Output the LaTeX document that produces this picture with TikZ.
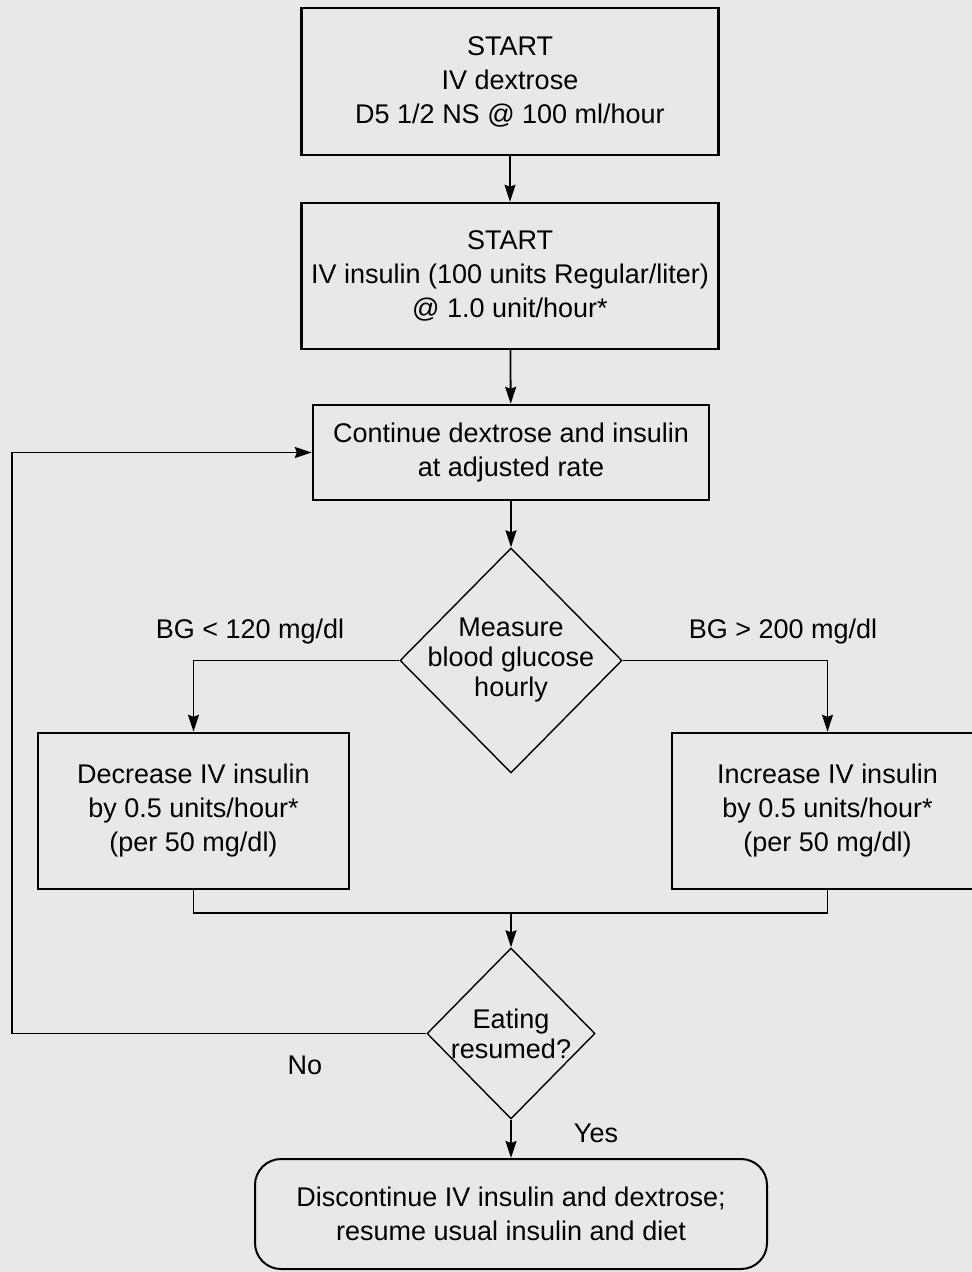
\documentclass[tikz,border=0pt]{standalone}
\usepackage{fontspec}
\setmainfont{Liberation Sans}
\usepackage{tikz}
\usetikzlibrary{positioning}
\usetikzlibrary{shapes.geometric}
\usetikzlibrary{arrows.meta}
\usepackage{xcolor}

\begin{document}
\begin{tikzpicture}[x=0.5pt, y=-0.5pt,
    font=\fontsize{13.5}{17}\selectfont,
    box/.style={draw, rectangle, line width=1.2pt, align=center, inner sep=0pt},
    choice/.style={draw, diamond, aspect=1, line width=0.7pt, align=center, inner sep=-6pt,
        font=\fontsize{13.5}{15}\selectfont},
    stopbox/.style={draw, rectangle, rounded corners=13pt, line width=1pt, align=center},
    arrow/.style={-{Stealth[length=8.5pt, width=5.5pt, inset=1pt]}, line width=0.9pt},
    line/.style={line width=0.9pt}]
    % Paper
    \fill[black!9] (0,0) rectangle (972,1272);
    \useasboundingbox (0,0) rectangle (972,1272);

    % Dextrose drip
    \node[box, minimum width=208.5pt, minimum height=73.5pt] (dextrose) at (510,81.5)
        {START\\IV dextrose\\D5 1/2 NS @ 100 ml/hour};

    % Insulin drip
    \node[box, minimum width=208.5pt, minimum height=73pt] (insulin) at (510,276)
        {START\\IV insulin (100 units Regular/liter)\\@ 1.0 unit/hour*};
    \draw[arrow] (dextrose) -- (insulin);

    % Continue
    \node[box, minimum width=198pt, minimum height=47.5pt] (cont) at (511,452.5)
        {Continue dextrose and insulin\\at adjusted rate};
    \draw[arrow] (insulin) -- (cont);

    % Hourly check
    \node[choice, minimum width=111pt, minimum height=112.5pt] (measure) at (511,660.5)
        {Measure\\blood glucose\\hourly};
    \draw[arrow] (cont) -- (measure);

    % Low glucose
    \node[box, minimum width=155.5pt, minimum height=78pt] (dec) at (193.5,811)
        {Decrease IV insulin\\by 0.5 units/hour*\\(per 50 mg/dl)};
    \draw[arrow] (measure.west) -| (dec.north);
    \node (low) at (250,632) {BG < 120 mg/dl};

    % High glucose
    \node[box, minimum width=155.5pt, minimum height=78pt] (inc) at (827.5,811)
        {Increase IV insulin\\by 0.5 units/hour*\\(per 50 mg/dl)};
    \draw[arrow] (measure.east) -| (inc.north);
    \node (high) at (783,632) {BG > 200 mg/dl};

    % Merge
    \coordinate (join) at (511,913);
    \draw[line] (dec.south) |- (join) -| (inc.south);

    % Eating?
    \node[choice, minimum width=84pt, minimum height=85.5pt] (eat) at (511,1033.5)
        {Eating\\resumed?};
    \draw[arrow] (join) -- (eat);

    % No: loop back
    \coordinate (back) at (12,1033.5);
    \draw[arrow] (eat.west) -- (back) |- (cont.west);
    \node (no) at (305,1065) {No};

    % Yes: stop
    \node[stopbox, minimum width=256pt, minimum height=55pt] (stop) at (511,1214)
        {Discontinue IV insulin and dextrose;\\resume usual insulin and diet};
    \draw[arrow] (eat) -- (stop);
    \node (yes) at (596,1133) {Yes};
\end{tikzpicture}
\end{document}
